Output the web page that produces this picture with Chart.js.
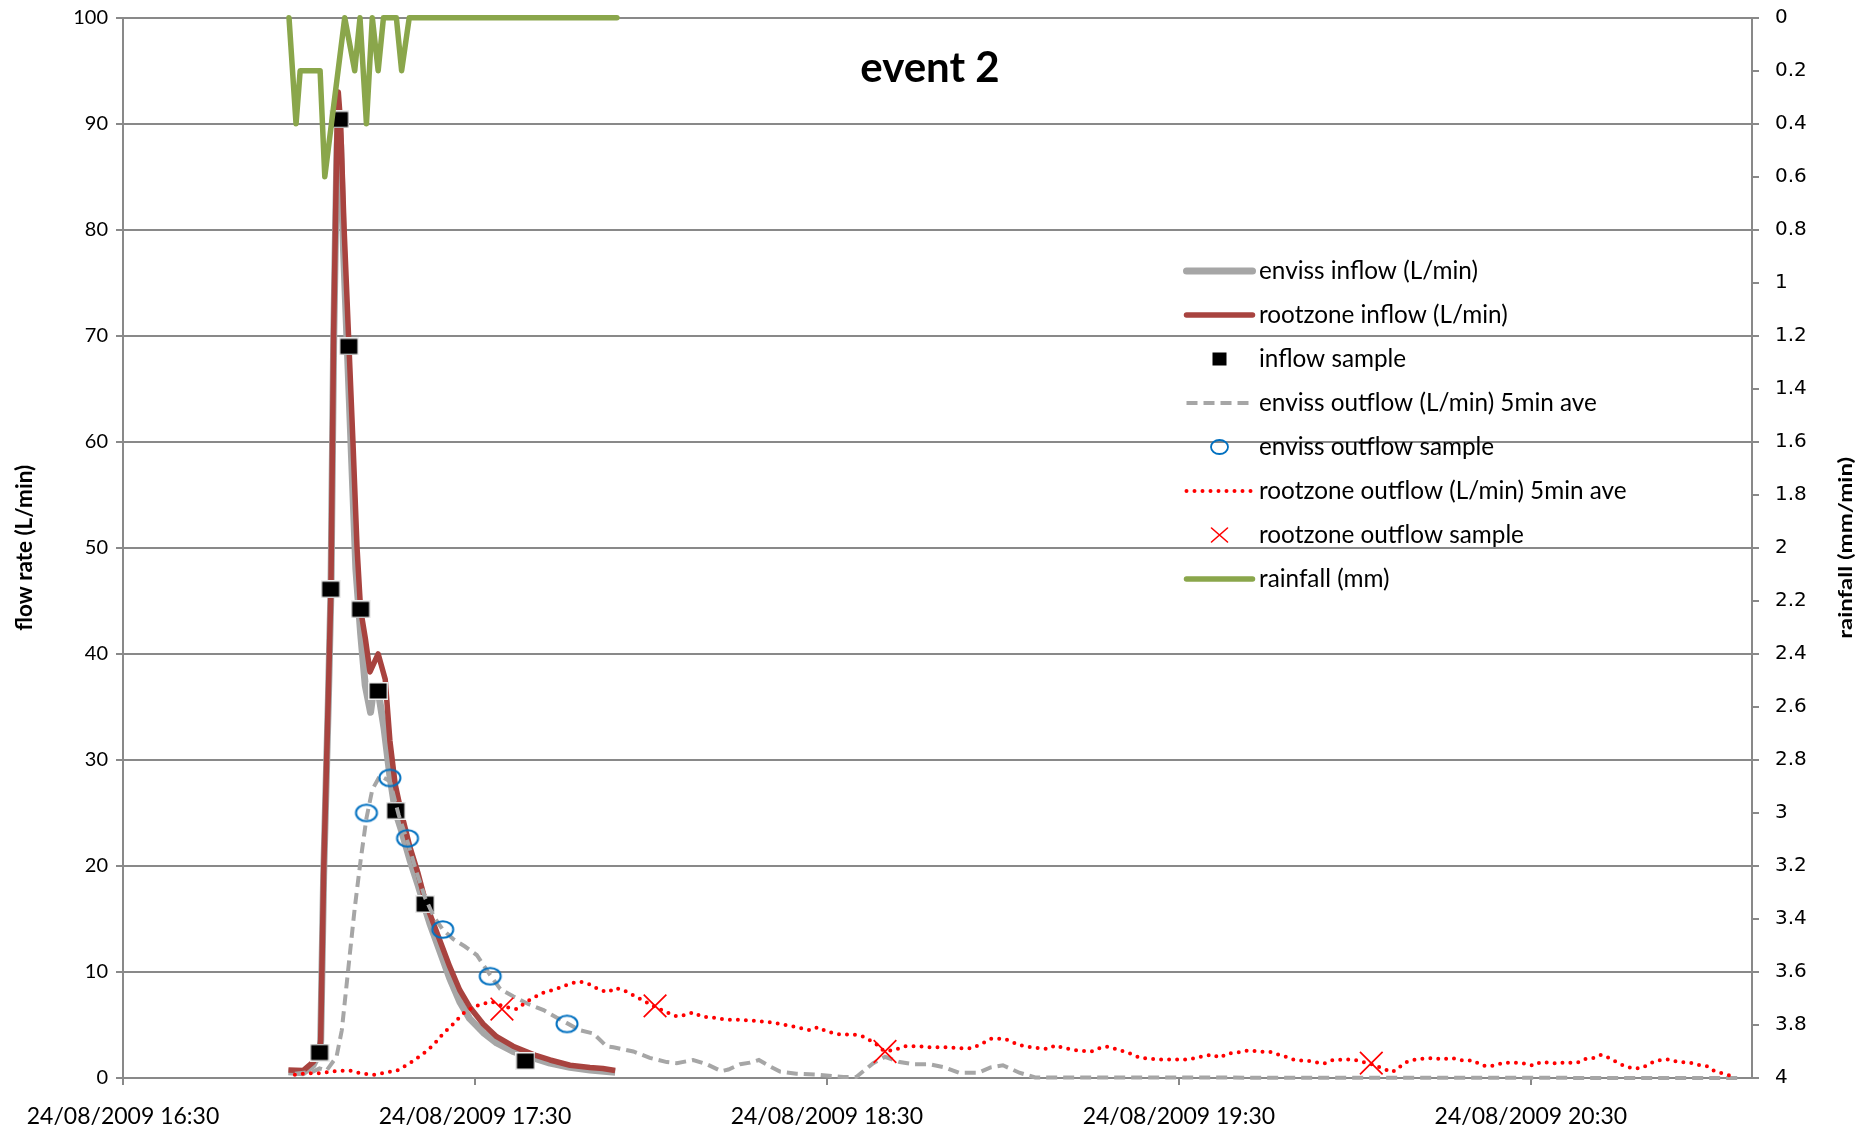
<!DOCTYPE html>
<html>
<head>
<meta charset="utf-8">
<title>event 2</title>
<script src="https://cdn.jsdelivr.net/npm/chart.js@4.4.1/dist/chart.umd.min.js"></script>
<style>
  html, body { margin: 0; padding: 0; background: #fff; }
  #wrap { width: 1864px; height: 1129px; }
</style>
</head>
<body>
<div id="wrap"><canvas id="eventChart" width="1864" height="1129"></canvas></div>
<script>
// time axis is minutes after 24/08/2009 16:30
const xTickMinutes = [0, 60, 120, 180, 240];
const xTickLabels = ['24/08/2009 16:30', '24/08/2009 17:30', '24/08/2009 18:30', '24/08/2009 19:30', '24/08/2009 20:30'];

const envissInflowT = [28.2, 30.7, 32.4, 33.5, 33.7, 34.2, 35.0, 35.45, 35.9, 36.2, 36.5, 36.8, 37.1, 37.6, 38.3, 39.0, 39.7, 40.5, 41.3, 42.2, 42.8, 43.5, 44.5, 45.5, 46.4, 47.5, 48.9, 50.3, 51.5, 52.3, 54.0, 55.7, 57.4, 59.1, 61.4, 63.7, 66.5, 70.5, 72.8, 76.2, 79.6, 83.9];
const envissInflowQ = [0.6, 0.5, 1.2, 2.4, 3.4, 19, 35.5, 46, 69, 79, 88, 90.5, 88, 78, 68, 58, 48, 42, 37, 34.5, 37, 36.5, 33, 28.5, 25.2, 23.3, 20.6, 18.2, 16.0, 14.6, 12.0, 9.4, 7.2, 5.6, 4.3, 3.3, 2.5, 1.8, 1.4, 1.0, 0.75, 0.55];

const rootzoneInflowT = [28.2, 30.7, 32.4, 33.5, 33.7, 34.2, 35.0, 35.45, 35.9, 36.2, 36.5, 36.7, 37.1, 37.7, 38.45, 39.2, 39.9, 40.5, 41.3, 42.1, 43.5, 44.7, 45.5, 46.4, 47.5, 48.9, 50.3, 51.2, 52.3, 54.0, 55.7, 57.4, 59.1, 61.4, 63.7, 66.5, 70.5, 72.8, 76.2, 79.6, 81.8, 83.9];
const rootzoneInflowQ = [0.75, 0.7, 1.5, 2.4, 3.6, 19.3, 36, 46.2, 70, 80, 90, 93, 90, 80, 70, 60, 50, 44.2, 41.5, 38.3, 40, 37.6, 31.8, 27.7, 24.9, 21.8, 19.3, 17.4, 15.5, 13.0, 10.5, 8.3, 6.7, 5.1, 3.9, 3.0, 2.1, 1.7, 1.2, 1.0, 0.9, 0.7];

const inflowSampleT = [33.5, 35.4, 36.9, 38.5, 40.5, 43.5, 46.5, 51.5, 68.6];
const inflowSampleQ = [2.4, 46.1, 90.4, 69.0, 44.2, 36.5, 25.2, 16.4, 1.6];

const envissOutflowT = [29.3, 32.4, 33.5, 34.7, 36.4, 37.3, 38.5, 39.5, 40.5, 41.5, 42.5, 43.8, 45.5, 47.0, 48.5, 50.0, 51.5, 53.0, 54.5, 56.3, 58.3, 60.3, 62.6, 64.3, 66.5, 69.0, 71.7, 73.9, 75.6, 77.9, 80.2, 82.4, 83.6, 87.0, 89.8, 92.7, 94.4, 97.2, 99.5, 102.0, 103.2, 105.2, 106.9, 108.4, 110.3, 112.0, 114.8, 118.8, 122.8, 125.0, 127.9, 129.9, 132.4, 134.7, 137.5, 140.1, 142.5, 145.8, 147.9, 150.0, 152.8, 155.5, 275.4];
const envissOutflowQ = [0.4, 0.6, 0.9, 0.7, 2.0, 4.5, 10.8, 16.0, 20.5, 24.5, 27.2, 28.5, 28.0, 24.8, 22.3, 19.5, 17.0, 15.2, 14.0, 13.1, 12.4, 11.6, 9.7, 8.4, 7.7, 7.0, 6.4, 5.7, 5.2, 4.5, 4.2, 3.0, 2.9, 2.5, 1.9, 1.5, 1.4, 1.7, 1.3, 0.65, 0.8, 1.3, 1.45, 1.7, 1.1, 0.6, 0.4, 0.3, 0.1, 0.1, 1.4, 2.0, 1.5, 1.3, 1.3, 1.0, 0.5, 0.5, 1.0, 1.2, 0.5, 0.05, 0];

const envissSampleT = [41.5, 45.5, 48.5, 54.5, 62.6, 75.7];
const envissSampleQ = [25.0, 28.3, 22.6, 14.0, 9.6, 5.1];

const rootzoneOutflowT = [29.3, 31.3, 33.6, 36.4, 38.7, 40.4, 42.7, 45.2, 46.7, 48.9, 51.2, 52.9, 54.6, 56.3, 58.0, 59.7, 61.4, 62.8, 65.1, 67.1, 68.8, 71.4, 73.9, 76.2, 77.9, 79.3, 81.3, 82.7, 83.9, 85.3, 87.0, 88.7, 90.7, 92.7, 94.4, 95.5, 97.2, 98.6, 100.6, 102.9, 105.2, 107.4, 109.7, 112.0, 114.8, 117.1, 118.5, 119.9, 122.2, 124.5, 126.2, 128.2, 129.6, 131.3, 133.3, 135.3, 137.5, 140.4, 142.7, 144.7, 146.6, 148.0, 150.3, 152.8, 155.2, 157.7, 159.0, 160.2, 162.7, 165.1, 166.8, 168.0, 170.1, 171.7, 173.4, 176.7, 181.6, 184.1, 185.7, 187.0, 188.2, 190.6, 191.9, 193.5, 195.6, 197.2, 198.5, 199.7, 202.2, 204.7, 206.3, 208.8, 210.0, 212.9, 214.5, 216.3, 217.4, 218.2, 219.5, 221.1, 223.6, 224.8, 226.5, 228.5, 230.2, 231.4, 232.6, 233.9, 235.5, 237.6, 239.2, 240.5, 241.7, 243.3, 244.6, 245.8, 247.1, 248.3, 249.5, 250.8, 252.0, 253.1, 254.1, 255.7, 257.3, 259.0, 260.2, 261.4, 263.5, 265.1, 267.2, 268.8, 270.1, 271.3, 273.0, 275.0];
const rootzoneOutflowQ = [0.3, 0.45, 0.45, 0.65, 0.7, 0.45, 0.3, 0.55, 0.7, 1.4, 2.3, 3.1, 4.2, 5.1, 6.1, 6.7, 7.0, 7.2, 6.7, 6.5, 7.2, 8.0, 8.4, 8.9, 9.1, 8.9, 8.3, 8.1, 8.5, 8.3, 7.8, 7.3, 6.7, 6.2, 5.8, 5.9, 6.2, 5.8, 5.7, 5.5, 5.5, 5.4, 5.3, 5.1, 4.8, 4.5, 4.8, 4.4, 4.1, 4.1, 3.9, 3.3, 2.6, 2.6, 3.0, 3.0, 2.9, 2.9, 2.8, 2.8, 3.3, 3.7, 3.7, 3.1, 2.85, 2.75, 3.1, 2.85, 2.6, 2.5, 2.9, 2.95, 2.6, 2.3, 1.9, 1.75, 1.75, 2.05, 2.2, 1.9, 2.3, 2.45, 2.6, 2.5, 2.45, 2.15, 1.95, 1.7, 1.6, 1.35, 1.7, 1.75, 1.7, 1.3, 0.95, 0.55, 0.9, 1.35, 1.65, 1.8, 1.9, 1.75, 1.9, 1.65, 1.65, 1.25, 1.1, 1.2, 1.45, 1.45, 1.35, 1.15, 1.5, 1.45, 1.35, 1.5, 1.4, 1.5, 1.85, 1.9, 2.2, 1.95, 1.65, 1.2, 0.9, 0.95, 1.35, 1.65, 1.75, 1.5, 1.45, 1.2, 1.1, 0.65, 0.4, 0.05];

const rootzoneSampleT = [64.6, 90.7, 129.9, 212.8];
const rootzoneSampleQ = [6.5, 6.8, 2.5, 1.4];

const rainT = [28.3, 29.5, 30.2, 33.6, 34.4, 37.8, 39.5, 40.4, 41.5, 42.5, 43.5, 44.4, 46.6, 47.5, 48.8, 84.2];
const rainMm = [0, 0.4, 0.2, 0.2, 0.6, 0, 0.2, 0, 0.4, 0, 0.2, 0, 0, 0.2, 0, 0];

const gridColor = '#898989';

function pts(t, v) {
    return t.map((x, i) => ({ x: x, y: v[i] }));
}

// marker images (Excel draws these a bit wider than tall)
function makeSquare() {
    const c = document.createElement('canvas');
    c.width = 20; c.height = 18;
    const g = c.getContext('2d');
    g.fillStyle = '#eeeeee';
    g.fillRect(0, 0, 20, 18);
    g.fillStyle = '#000';
    g.fillRect(1.5, 1.5, 17, 15);
    return c;
}
function makeEllipse() {
    const c = document.createElement('canvas');
    c.width = 26; c.height = 21;
    const g = c.getContext('2d');
    g.strokeStyle = '#0070c0';
    g.lineWidth = 2;
    g.beginPath();
    g.ellipse(13, 10.5, 10.5, 8.3, 0, 0, Math.PI * 2);
    g.stroke();
    return c;
}

const squareImg = makeSquare();
const ellipseImg = makeEllipse();

function timeLabel(value) {
    const i = xTickMinutes.indexOf(Math.round(value));
    return i >= 0 ? xTickLabels[i] : '';
}

// keep the plot box where Excel had it: no extra room for half labels
function noEdgePadding(scale) {
    scale.paddingTop = 0;
    scale.paddingBottom = 0;
}

// title, right axis title and the legend box inside the plot
const extrasPlugin = {
    id: 'extras',
    afterDraw(chart) {
        const ctx = chart.ctx;
        const area = chart.chartArea;
        ctx.save();
        ctx.fillStyle = '#000';
        ctx.textAlign = 'center';
        ctx.textBaseline = 'middle';
        ctx.font = 'bold 42px Lato';
        ctx.fillText('event 2', 930, 68);

        ctx.save();
        ctx.translate(1846, (area.top + area.bottom) / 2);
        ctx.rotate(-Math.PI / 2);
        ctx.scale(1, 0.8);
        ctx.font = 'bold 24px Lato';
        ctx.fillText('rainfall (mm/min)', 0, 0);
        ctx.restore();

        const iconX = 1219.5;
        const textX = 1259;
        chart.data.datasets.forEach((ds, i) => {
            const y = 271 + i * 44;
            if (ds.showLine) {
                ctx.strokeStyle = ds.borderColor;
                ctx.lineWidth = ds.borderWidth;
                ctx.setLineDash(ds.borderDash || []);
                ctx.lineCap = ds.borderDash ? (ds.borderCapStyle || 'butt') : 'round';
                ctx.beginPath();
                ctx.moveTo(iconX - 33, y);
                ctx.lineTo(iconX + 33, y);
                ctx.stroke();
                ctx.setLineDash([]);
            } else if (ds.legendIcon === 'square') {
                ctx.fillStyle = '#000';
                ctx.fillRect(iconX - 7, y - 6.5, 14, 13);
            } else if (ds.legendIcon === 'ellipse') {
                ctx.strokeStyle = '#0070c0';
                ctx.lineWidth = 1.8;
                ctx.beginPath();
                ctx.ellipse(iconX, y, 8.5, 7, 0, 0, Math.PI * 2);
                ctx.stroke();
            } else if (ds.legendIcon === 'cross') {
                ctx.strokeStyle = '#ff0000';
                ctx.lineWidth = 1.6;
                ctx.beginPath();
                ctx.moveTo(iconX - 8, y - 7);
                ctx.lineTo(iconX + 8, y + 7);
                ctx.moveTo(iconX + 8, y - 7);
                ctx.lineTo(iconX - 8, y + 7);
                ctx.stroke();
            }
            ctx.fillStyle = '#000';
            ctx.textAlign = 'left';
            ctx.textBaseline = 'middle';
            ctx.font = '24.3px Lato';
            ctx.fillText(ds.label, textX, y);
        });
        ctx.restore();
    }
};

Chart.defaults.font.family = 'Lato';
Chart.defaults.color = '#000';

const ctx = document.getElementById('eventChart').getContext('2d');
const chart = new Chart(ctx, {
    type: 'scatter',
    data: {
        datasets: [
            {
                label: 'enviss inflow (L/min)',
                data: pts(envissInflowT, envissInflowQ),
                showLine: true,
                borderColor: '#a6a6a6',
                borderWidth: 7,
                borderJoinStyle: 'round',
                pointRadius: 0,
                yAxisID: 'y',
                order: 8
            },
            {
                label: 'rootzone inflow (L/min)',
                data: pts(rootzoneInflowT, rootzoneInflowQ),
                showLine: true,
                borderColor: '#a8433f',
                borderWidth: 5.5,
                borderJoinStyle: 'round',
                pointRadius: 0,
                yAxisID: 'y',
                order: 7
            },
            {
                label: 'inflow sample',
                data: pts(inflowSampleT, inflowSampleQ),
                showLine: false,
                pointStyle: squareImg,
                pointRadius: 10,
                legendIcon: 'square',
                yAxisID: 'y',
                order: 6
            },
            {
                label: 'enviss outflow (L/min) 5min ave',
                data: pts(envissOutflowT, envissOutflowQ),
                showLine: true,
                borderColor: '#a6a6a6',
                borderWidth: 4,
                borderDash: [11, 6],
                borderCapStyle: 'butt',
                pointRadius: 0,
                yAxisID: 'y',
                order: 5
            },
            {
                label: 'enviss outflow sample',
                data: pts(envissSampleT, envissSampleQ),
                showLine: false,
                pointStyle: ellipseImg,
                pointRadius: 10,
                legendIcon: 'ellipse',
                yAxisID: 'y',
                order: 4
            },
            {
                label: 'rootzone outflow (L/min) 5min ave',
                data: pts(rootzoneOutflowT, rootzoneOutflowQ),
                showLine: true,
                borderColor: '#ff0000',
                borderWidth: 4,
                borderDash: [0, 8],
                borderCapStyle: 'round',
                pointRadius: 0,
                yAxisID: 'y',
                order: 3
            },
            {
                label: 'rootzone outflow sample',
                data: pts(rootzoneSampleT, rootzoneSampleQ),
                showLine: false,
                pointStyle: 'crossRot',
                pointRadius: 16,
                pointBorderColor: '#ff0000',
                pointBorderWidth: 1.7,
                legendIcon: 'cross',
                yAxisID: 'y',
                order: 2
            },
            {
                label: 'rainfall (mm)',
                data: pts(rainT, rainMm),
                showLine: true,
                borderColor: '#8aa64b',
                borderWidth: 5.5,
                borderJoinStyle: 'round',
                borderCapStyle: 'round',
                pointRadius: 0,
                yAxisID: 'y2',
                order: 1
            }
        ]
    },
    options: {
        responsive: false,
        animation: false,
        events: [],
        clip: false,
        layout: { padding: { top: 16, left: 0, right: 0, bottom: 0 } },
        plugins: {
            legend: { display: false },
            tooltip: { enabled: false }
        },
        scales: {
            x: {
                type: 'linear',
                min: 0,
                max: 277.7,
                afterFit: (scale) => { scale.height = 51; },
                ticks: {
                    stepSize: 60,
                    includeBounds: false,
                    autoSkip: false,
                    maxRotation: 0,
                    padding: 18,
                    font: { family: 'Lato', size: 23 },
                    color: '#000',
                    callback: timeLabel
                },
                grid: { drawOnChartArea: false, drawTicks: true, tickLength: 7, color: gridColor, lineWidth: 2 },
                border: { color: gridColor, width: 2 }
            },
            y: {
                position: 'left',
                min: 0,
                max: 100,
                afterFit: (scale) => { scale.width = 123; noEdgePadding(scale); },
                ticks: {
                    stepSize: 10,
                    padding: 8,
                    font: { family: 'Lato', size: 20 },
                    color: '#000'
                },
                grid: { color: gridColor, lineWidth: 2, tickLength: 7 },
                border: { color: gridColor, width: 2 },
                title: {
                    display: true,
                    text: 'flow rate (L/min)',
                    font: { family: 'Lato', size: 22.5, weight: 'bold' },
                    color: '#000',
                    padding: { top: 11, bottom: 0 }
                }
            },
            y2: {
                position: 'right',
                reverse: true,
                min: 0,
                max: 4,
                afterFit: (scale) => { scale.width = 112; noEdgePadding(scale); },
                ticks: {
                    stepSize: 0.2,
                    padding: 16,
                    autoSkip: false,
                    font: { family: 'DejaVu Sans', size: 20 },
                    color: '#000',
                    callback: (v) => String(Math.round(v * 10) / 10)
                },
                grid: { drawOnChartArea: false, drawTicks: true, tickLength: 7, color: gridColor, lineWidth: 2 },
                border: { color: gridColor, width: 2 }
            }
        }
    },
    plugins: [extrasPlugin]
});
</script>
</body>
</html>
